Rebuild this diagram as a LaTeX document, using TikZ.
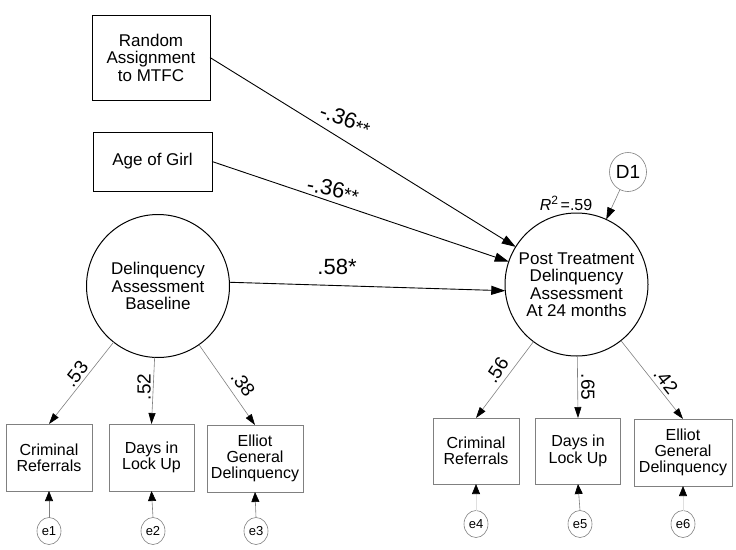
\documentclass[tikz,border=0pt]{standalone}
\usepackage{fontspec}
\setmainfont{Liberation Sans}
\usetikzlibrary{arrows.meta,shapes.geometric}
\begin{document}
\begin{tikzpicture}[x=1pt,y=-1pt,
  every node/.style={inner sep=0pt, outer sep=0pt},
  mainbox/.style={draw=black, line width=0.9pt, rectangle, align=center, font=\fontsize{17}{17.5}\selectfont},
  latent/.style={draw=black, line width=1pt, circle, minimum size=143pt, align=center, font=\fontsize{17}{17.5}\selectfont},
  obsbox/.style={draw=gray, line width=0.7pt, rectangle, align=center, font=\fontsize{16}{16.3}\selectfont, minimum height=67pt},
  errnode/.style={draw=gray, line width=0.6pt, ellipse, minimum width=24pt, minimum height=27pt, font=\fontsize{13}{13}\selectfont},
  patharrow/.style={draw=black, line width=0.9pt, -{Triangle[length=14pt,width=9pt]}},
  loadarrow/.style={draw=gray, line width=0.6pt, -{Triangle[length=11pt,width=7pt,fill=black,color=black]}},
  errarrow/.style={draw=gray, line width=0.6pt, -{Triangle[length=10pt,width=8pt,fill=black,color=black]}},
  faintarrow/.style={draw=gray!25, line width=0.6pt, -{Triangle[length=10pt,width=8pt,fill=black,color=black]}},
  pathlabel/.style={font=\fontsize{22}{22}\selectfont},
  loadlabel/.style={font=\fontsize{19}{19}\selectfont}
]
\useasboundingbox (0,0) rectangle (736,549);

% exogenous variables
\node[mainbox, minimum width=118pt, minimum height=85pt] (ra) at (151,57.5) {Random\\Assignment\\to MTFC};
\node[mainbox, minimum width=119pt, minimum height=59pt] (age) at (152.5,161.5) {Age of Girl};

% latent variables
\node[latent] (base) at (158,286) {Delinquency\\Assessment\\Baseline};
\node[latent] (post) at (576.5,284.5) {Post Treatment\\Delinquency\\Assessment\\At 24 months};

% disturbance
\node[draw=gray, line width=0.6pt, ellipse, minimum width=37pt, minimum height=39pt, font=\fontsize{19}{19}\selectfont] (d1) at (628,172) {D1};

% observed indicators (left)
\node[obsbox, minimum width=86pt] (b1) at (49,457.5) {Criminal\\Referrals};
\node[obsbox, minimum width=85pt] (b2) at (151.5,457.5) {Days in\\Lock Up};
\node[obsbox, minimum width=96pt] (b3) at (255,458.5) {Elliot\\General\\Delinquency};

% observed indicators (right)
\node[obsbox, minimum width=86pt, minimum height=66pt] (b4) at (476,451) {Criminal\\Referrals};
\node[obsbox, minimum width=85pt, minimum height=66pt] (b5) at (578,451) {Days in\\Lock Up};
\node[obsbox, minimum width=98pt] (b6) at (683,452.5) {Elliot\\General\\Delinquency};

% error terms
\node[errnode] (e1) at (49,531) {e1};
\node[errnode] (e2) at (153,531) {e2};
\node[errnode] (e3) at (256,531) {e3};
\node[errnode] (e4) at (476,524) {e4};
\node[errnode] (e5) at (580,524) {e5};
\node[errnode] (e6) at (683,524) {e6};

% structural paths
\draw[patharrow] (ra.east) -- (post);
\draw[patharrow] (age.east) -- (post);
\draw[patharrow] (base.3) -- (post.185);
\draw[draw=gray, line width=0.6pt, -{Triangle[length=12pt,width=8pt,fill=black,color=black]}] (d1) -- (post);

% loadings
\draw[loadarrow] (base) -- (b1.north);
\draw[loadarrow] (base) -- (b2.north);
\draw[loadarrow] (base) -- (b3.north);
\draw[loadarrow] (post) -- (b4.north);
\draw[loadarrow] (post) -- (b5.north);
\draw[loadarrow] (post) -- (b6.north);

% error arrows
\draw[errarrow] (e1.north) -- (b1.south);
\draw[errarrow] (e2.north) -- (b2.south);
\draw[errarrow] (e3.north) -- (b3.south);
\draw[faintarrow] (e4.north) -- (b4.south);
\draw[errarrow] (e5.north) -- (b5.south);
\draw[faintarrow] (e6.north) -- (b6.south);

% path labels
\node[pathlabel, rotate=-20] (l1) at (345,120) {-.36\raisebox{-2.5pt}{\fontsize{19}{19}\selectfont**}};
\node[pathlabel, rotate=-11] (l2) at (333,190) {-.36\raisebox{-2.5pt}{\fontsize{19}{19}\selectfont**}};
\node[pathlabel] (l3) at (337,267) {.58*};
\node[font=\fontsize{16}{16}\selectfont] (r2) at (566,203) {\textit{R}\raisebox{6pt}{\fontsize{12}{12}\selectfont 2}\,=.59};

% loading labels
\node[loadlabel, rotate=52] (k1) at (76,374) {.53};
\node[loadlabel, rotate=90] (k2) at (144,387) {.52};
\node[loadlabel, rotate=-54] (k3) at (243,384) {.38};
\node[loadlabel, rotate=57] (k4) at (497,370) {.56};
\node[loadlabel, rotate=-90] (k5) at (588,387) {.65};
\node[loadlabel, rotate=-52] (k6) at (666,381) {.42};
\end{tikzpicture}
\end{document}
